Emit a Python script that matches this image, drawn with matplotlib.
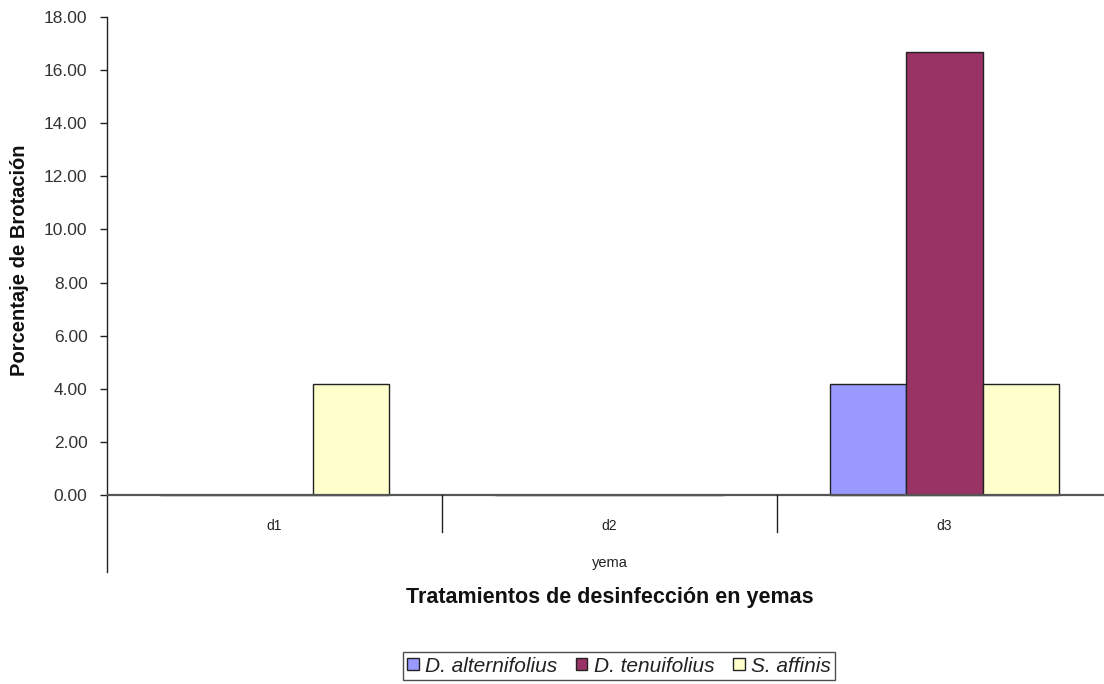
import matplotlib
matplotlib.use("Agg")
import matplotlib.pyplot as plt
from matplotlib.patches import Patch
import numpy as np

plt.rcParams['font.family'] = ['Liberation Sans', 'DejaVu Sans']

categories = ["d1", "d2", "d3"]
series_names = ["D. alternifolius", "D. tenuifolius", "S. affinis"]
alternifolius = [0.0, 0.0, 4.17]
tenuifolius = [0.0, 0.0, 16.67]
affinis = [4.17, 0.0, 4.17]
yticks = [0, 2, 4, 6, 8, 10, 12, 14, 16, 18]
colors = ["#9999FF", "#993366", "#FFFFCC"]

W, H = 1104, 684
fig = plt.figure(figsize=(W / 100, H / 100), dpi=100)
# axes spans from the value axis to past the right edge; bottom extends below zero
left, right, top, bottom = 107, 1112, 17, 572
ax = fig.add_axes([left / W, 1 - bottom / H, (right - left) / W, (bottom - top) / H])

ymin = -(bottom - 495) / ((495 - top) / 18.0)
ax.set_xlim(0, 3)
ax.set_ylim(ymin, 18)

bw = 1.0 / 4.4
x = np.arange(len(categories)) + 0.5
for i, (vals, c) in enumerate(zip([alternifolius, tenuifolius, affinis], colors)):
    ax.bar(x + (i - 1) * bw, vals, width=bw, color=c, edgecolor="#222222",
           linewidth=1.0, zorder=3)

# category axis at zero with divider ticks
ax.axhline(0, color="#555555", linewidth=1.6, zorder=4)
tick_len = (532 - 495) / ((495 - top) / 18.0)
for b in [1, 2]:
    ax.plot([b, b], [0, -tick_len], color="#222222", linewidth=1.0, zorder=4)
for xi, lab in zip(x, categories):
    ax.text(xi, -1.15, lab, ha="center", va="center", fontsize=10, color="#222222")

ax.text(1.5, -2.55, "yema", ha="center", va="center", fontsize=10.5, color="#222222")

for s in ["top", "right", "bottom"]:
    ax.spines[s].set_visible(False)
ax.spines["left"].set_color("#222222")
ax.spines["left"].set_linewidth(1.0)
ax.set_xticks([])
ax.set_yticks(yticks)
ax.set_yticklabels([f"{v:.2f}" for v in yticks], fontsize=12.5, color="#333333")
ax.tick_params(axis="y", length=5, width=1, color="#222222", pad=9)

fig.text(20 / W, 1 - 260 / H, "Porcentaje de Brotación", rotation=90,
         ha="center", va="center", fontsize=14.5, fontweight="bold", color="#111111")
fig.text(610 / W, 1 - 597 / H, "Tratamientos de desinfección en yemas",
         ha="center", va="center", fontsize=15.5, fontweight="bold", color="#111111")

handles = [Patch(facecolor=c, edgecolor="#222222", linewidth=1.0) for c in colors]
leg = fig.legend(handles, series_names, loc="center", bbox_to_anchor=(619 / W, 1 - 666 / H),
                 ncol=3, frameon=True, fancybox=False, fontsize=15,
                 handlelength=0.55, handleheight=0.55, handletextpad=0.3,
                 columnspacing=0.9, borderpad=0.2, borderaxespad=0)
leg.get_frame().set_edgecolor("#222222")
leg.get_frame().set_linewidth(1.0)
for t in leg.get_texts():
    t.set_fontstyle("italic")
    t.set_color("#222222")

fig.savefig("out.png", dpi=100)
